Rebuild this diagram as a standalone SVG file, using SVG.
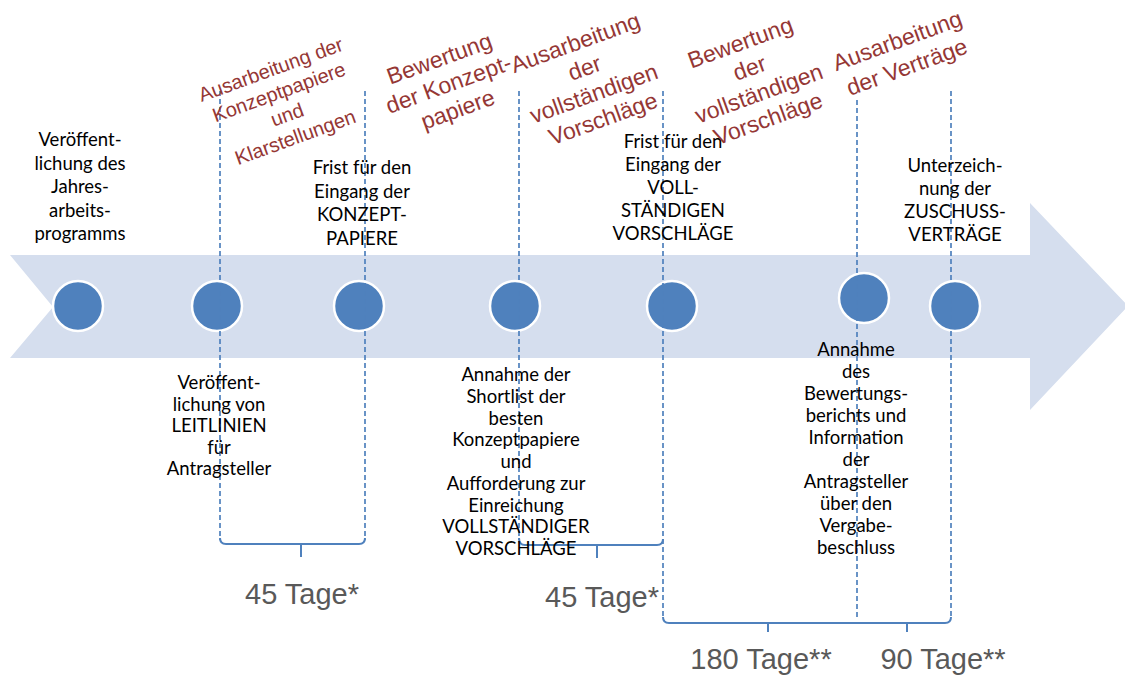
<svg xmlns="http://www.w3.org/2000/svg" width="1125" height="675" viewBox="0 0 1125 675">
<style>
.band{fill:#D5DEEE}
.dot{fill:#4F81BD;stroke:#fff;stroke-width:2.5}
.dash{stroke:#4F81BD;stroke-width:1.7;stroke-dasharray:5 3;fill:none}
.br{stroke:#4F81BD;stroke-width:2;fill:none}
.blk{font-family:Lato,"Liberation Sans",sans-serif;font-size:18.5px;fill:#000;text-anchor:middle}
.red{font-family:"Liberation Sans",Arial,sans-serif;font-size:23px;fill:#953735;text-anchor:middle}
.gry{font-family:"Liberation Sans",Arial,sans-serif;font-size:29px;fill:#595959;text-anchor:middle}
</style>
<rect width="1125" height="675" fill="#fff"/>
<g id="timeline-arrow">
<path class="band" d="M10,255 L1030,255 L1030,203 L1128,306 L1030,410 L1030,358 L10,358 L53,307 Z"/>
</g>
<g id="milestones">
<circle class="dot" cx="78" cy="306" r="25"/>
<circle class="dot" cx="217" cy="306" r="25"/>
<circle class="dot" cx="359" cy="306" r="25"/>
<circle class="dot" cx="515" cy="306" r="25"/>
<circle class="dot" cx="672" cy="306" r="25"/>
<circle class="dot" cx="864" cy="298" r="25"/>
<circle class="dot" cx="955" cy="306" r="25"/>
</g>
<g id="connectors">
<path class="dash" d="M220,91 V540"/>
<path class="dash" d="M365,91 V540"/>
<path class="dash" d="M519,91 V540"/>
<path class="dash" d="M663,91 V618"/>
<path class="dash" d="M857,100 V618"/>
<path class="dash" d="M951,91 V618"/>
<path class="br" d="M220,538 Q220,544 226,544 H359 Q365,544 365,538 M301,544 V557"/>
<path class="br" d="M519,538 Q519,545 525,545 H657 Q663,545 663,539 M597,545 V558"/>
<path class="br" d="M663,617 Q663,623 669,623 H857 M768,623 V632"/>
<path class="br" d="M857,623 H945 Q951,623 951,617 M907,623 V632"/>
</g>
<g id="label-veroeffentlichung-jahresarbeitsprogramm">
<text class="blk"><tspan x="80" y="146">Veröffent-</tspan><tspan x="80" y="169.5">lichung des</tspan><tspan x="80" y="193">Jahres-</tspan><tspan x="80" y="216.5">arbeits-</tspan><tspan x="80" y="240">programms</tspan></text>
</g>
<g id="label-frist-konzeptpapiere">
<text class="blk"><tspan x="362" y="174">Frist für den</tspan><tspan x="362" y="197.5">Eingang der</tspan><tspan x="362" y="221">KONZEPT-</tspan><tspan x="362" y="244.5">PAPIERE</tspan></text>
</g>
<g id="label-frist-vorschlaege">
<text class="blk"><tspan x="673" y="148">Frist für den</tspan><tspan x="673" y="171">Eingang der</tspan><tspan x="673" y="194">VOLL-</tspan><tspan x="673" y="217">STÄNDIGEN</tspan><tspan x="673" y="240">VORSCHLÄGE</tspan></text>
</g>
<g id="label-unterzeichnung">
<text class="blk"><tspan x="955" y="172">Unterzeich-</tspan><tspan x="955" y="195">nung der</tspan><tspan x="955" y="218">ZUSCHUSS-</tspan><tspan x="955" y="241">VERTRÄGE</tspan></text>
</g>
<g id="label-leitlinien">
<text class="blk"><tspan x="219" y="389">Veröffent-</tspan><tspan x="219" y="410.5">lichung von</tspan><tspan x="219" y="432">LEITLINIEN</tspan><tspan x="219" y="453.5">für</tspan><tspan x="219" y="475">Antragsteller</tspan></text>
</g>
<g id="label-shortlist">
<text class="blk"><tspan x="516" y="381">Annahme der</tspan><tspan x="516" y="402.75">Shortlist der</tspan><tspan x="516" y="424.5">besten</tspan><tspan x="516" y="446.25">Konzeptpapiere</tspan><tspan x="516" y="468">und</tspan><tspan x="516" y="489.75">Aufforderung zur</tspan><tspan x="516" y="511.5">Einreichung</tspan><tspan x="516" y="533.25">VOLLSTÄNDIGER</tspan><tspan x="516" y="555">VORSCHLÄGE</tspan></text>
</g>
<g id="label-bewertungsbericht">
<text class="blk"><tspan x="856" y="356">Annahme</tspan><tspan x="856" y="378">des</tspan><tspan x="856" y="400">Bewertungs-</tspan><tspan x="856" y="422">berichts und</tspan><tspan x="856" y="444">Information</tspan><tspan x="856" y="466">der</tspan><tspan x="856" y="488">Antragsteller</tspan><tspan x="856" y="510">über den</tspan><tspan x="856" y="532">Vergabe-</tspan><tspan x="856" y="554">beschluss</tspan></text>
</g>
<g id="phase-ausarbeitung-konzept" transform="translate(273,76) rotate(-20)">
<text class="red" style="font-size:20px"><tspan x="0" y="0">Ausarbeitung der</tspan><tspan x="0" y="24">Konzeptpapiere</tspan><tspan x="0" y="48">und</tspan><tspan x="0" y="72">Klarstellungen</tspan></text>
</g>
<g id="phase-bewertung-konzept" transform="translate(442,66) rotate(-20)">
<text class="red"><tspan x="0" y="0">Bewertung</tspan><tspan x="0" y="27">der Konzept-</tspan><tspan x="0" y="54">papiere</tspan></text>
</g>
<g id="phase-ausarbeitung-vorschlaege" transform="translate(578,50) rotate(-20)">
<text class="red"><tspan x="0" y="0">Ausarbeitung</tspan><tspan x="0" y="27">der</tspan><tspan x="0" y="54">vollständigen</tspan><tspan x="0" y="81">Vorschläge</tspan></text>
</g>
<g id="phase-bewertung-vorschlaege" transform="translate(743,50) rotate(-20)">
<text class="red"><tspan x="0" y="0">Bewertung</tspan><tspan x="0" y="27">der</tspan><tspan x="0" y="54">vollständigen</tspan><tspan x="0" y="81">Vorschläge</tspan></text>
</g>
<g id="phase-ausarbeitung-vertraege" transform="translate(900,48) rotate(-20)">
<text class="red"><tspan x="0" y="0">Ausarbeitung</tspan><tspan x="0" y="28">der Verträge</tspan></text>
</g>
<g id="durations">
<text class="gry" x="302" y="604">45 Tage*</text>
<text class="gry" x="602" y="607">45 Tage*</text>
<text class="gry" x="761" y="669">180 Tage**</text>
<text class="gry" x="943" y="669">90 Tage**</text>
</g>
</svg>
